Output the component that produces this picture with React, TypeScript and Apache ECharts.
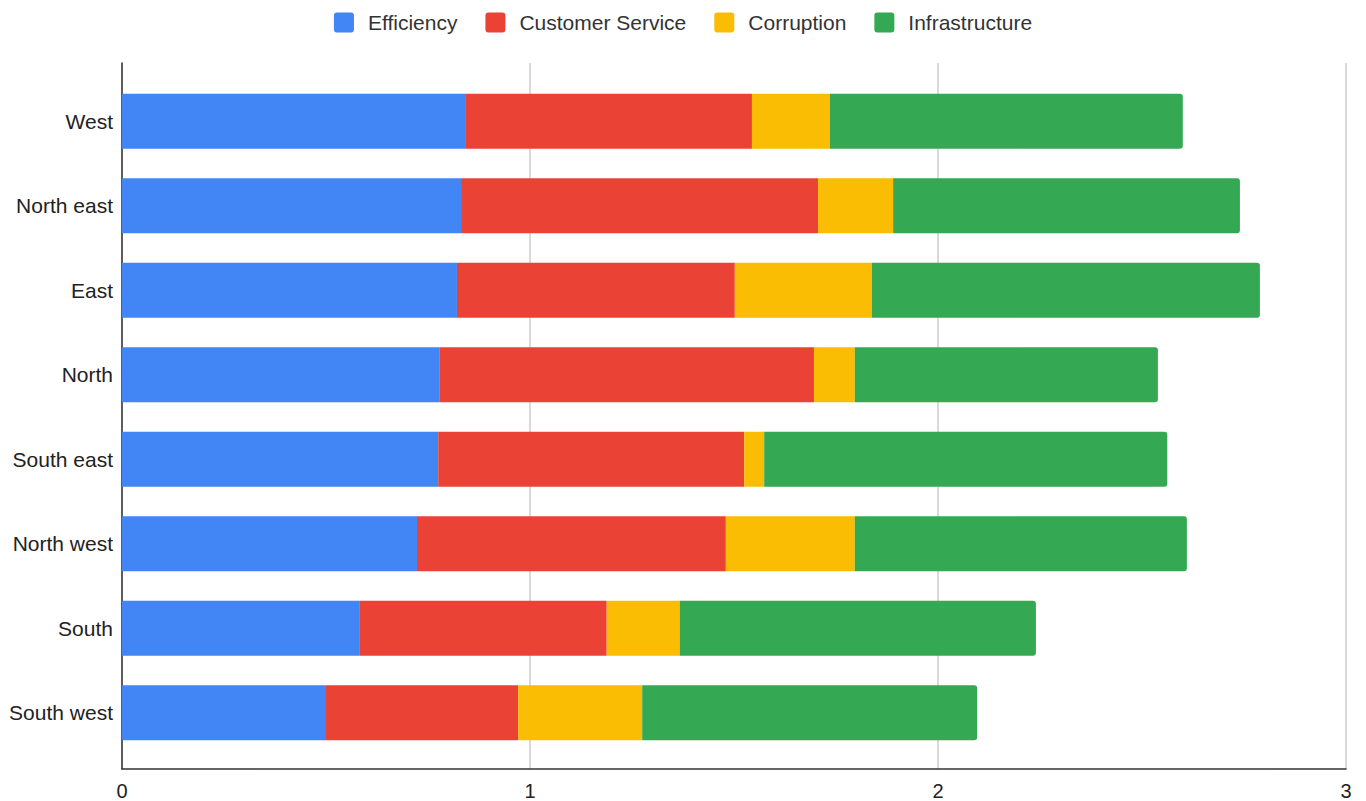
import React, { useEffect, useRef } from "react";
import * as echarts from "echarts";

const regions = ["West", "North east", "East", "North", "South east", "North west", "South", "South west"];
const efficiency = [0.843, 0.831, 0.821, 0.779, 0.775, 0.723, 0.583, 0.5];
const customerService = [0.701, 0.875, 0.681, 0.917, 0.75, 0.757, 0.605, 0.471];
const corruption = [0.191, 0.184, 0.336, 0.1, 0.049, 0.316, 0.179, 0.304];
const infrastructure = [0.865, 0.85, 0.951, 0.743, 0.988, 0.814, 0.873, 0.821];
const xTicks = [0, 1, 2, 3];

const FONT = "'Liberation Sans', Arial, sans-serif";

export default function App() {
  const ref = useRef<HTMLDivElement>(null);
  useEffect(() => {
    document.body.style.margin = "0";
    const chart = echarts.init(ref.current!, null, { renderer: "svg" });
    const mk = (name: string, data: number[], color: string, last = false) => ({
      name,
      type: "bar",
      stack: "total",
      xAxisIndex: 1,
      yAxisIndex: 1,
      barWidth: "65%",
      data,
      itemStyle: { color, borderRadius: last ? [0, 3, 3, 0] : 0 },
    });
    chart.setOption({
      animation: false,
      textStyle: { fontFamily: FONT },
      legend: {
        top: 7,
        left: "center",
        itemWidth: 20,
        itemHeight: 20,
        itemGap: 28,
        icon: "path://M3,0H17Q20,0 20,3V17Q20,20 17,20H3Q0,20 0,17V3Q0,0 3,0Z",
        textStyle: { fontSize: 21, color: "#333", fontFamily: FONT, padding: [0, 0, 0, 9] },
        data: ["Efficiency", "Customer Service", "Corruption", "Infrastructure"],
      },
      grid: [
        { left: 122, right: 20, top: 63, bottom: 32 },
        { left: 122, right: 20, top: 79, bottom: 46 },
      ],
      xAxis: [
        {
          gridIndex: 0,
          type: "value",
          min: xTicks[0],
          max: xTicks[xTicks.length - 1],
          interval: 1,
          axisLine: { show: true, lineStyle: { color: "#333", width: 1.5 } },
          axisTick: { show: false },
          axisLabel: { fontSize: 20, color: "#222", margin: 12, fontFamily: FONT },
          splitLine: { show: true, lineStyle: { color: "#ccc", width: 1.5 } },
        },
        {
          gridIndex: 1,
          type: "value",
          min: xTicks[0],
          max: xTicks[xTicks.length - 1],
          show: false,
        },
      ],
      yAxis: [
        {
          gridIndex: 0,
          type: "value",
          position: "left",
          axisLine: { show: true, onZero: false, lineStyle: { color: "#333", width: 1.5 } },
          axisTick: { show: false },
          axisLabel: { show: false },
          splitLine: { show: false },
        },
        {
          gridIndex: 1,
          type: "category",
          inverse: true,
          data: regions,
          axisLine: { show: false },
          axisTick: { show: false },
          axisLabel: { fontSize: 21, color: "#222", margin: 9, fontFamily: FONT },
        },
      ],
      series: [
        mk("Efficiency", efficiency, "#4285F4"),
        mk("Customer Service", customerService, "#EA4335"),
        mk("Corruption", corruption, "#FBBC04"),
        mk("Infrastructure", infrastructure, "#34A853", true),
      ],
    });
    return () => chart.dispose();
  }, []);
  return <div ref={ref} style={{ width: 1366, height: 801 }} />;
}
